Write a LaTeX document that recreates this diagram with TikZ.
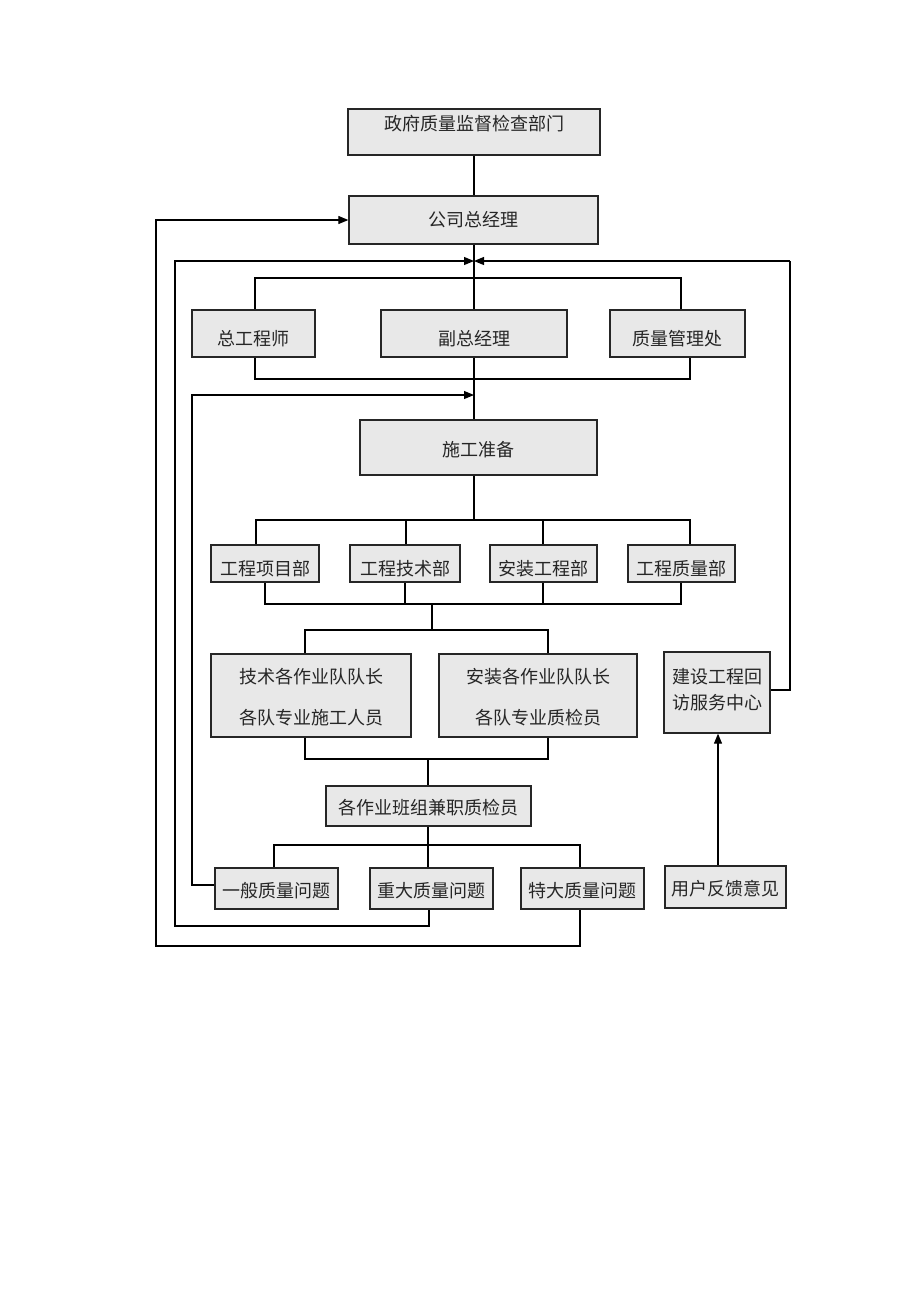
\documentclass[tikz,border=0pt]{standalone}
\usepackage{fontspec}
\newfontfamily\cjk{Noto Sans CJK SC}
\usetikzlibrary{arrows.meta,backgrounds}
\begin{document}
\begin{tikzpicture}[x=1pt,y=-1pt,
  box/.style={draw=black!85,line width=1.3pt,fill=black!9,rectangle,inner sep=0pt,
    font=\cjk\fontsize{18}{21}\selectfont,text=black!85,align=center},
  txt/.style={inner sep=0pt,font=\cjk\fontsize{18}{21}\selectfont,text=black!85,align=center},
  ln/.style={draw=black,line width=1.1pt},
  arr/.style={ln,-{Triangle[length=10pt,width=8pt]}}]
\useasboundingbox (0,0) rectangle (920,1302);
% nodes
\node[box,minimum width=252,minimum height=46,label={[txt,yshift=8pt]center:政府质量监督检查部门}] (gov) at (474,132) {};
\node[box,minimum width=249,minimum height=48,label={[txt]center:公司总经理}] (gm) at (473.5,220) {};
\node[box,minimum width=123,minimum height=47,label={[txt,yshift=-5pt]center:总工程师}] (ce) at (253.5,333.5) {};
\node[box,minimum width=186,minimum height=47,label={[txt,yshift=-5pt]center:副总经理}] (vgm) at (474,333.5) {};
\node[box,minimum width=135,minimum height=47,label={[txt,yshift=-5pt]center:质量管理处}] (qmd) at (677.5,333.5) {};
\node[box,minimum width=237,minimum height=55,label={[txt,yshift=-2pt]center:施工准备}] (prep) at (478.5,447.5) {};
\node[box,minimum width=108,minimum height=37,label={[txt,yshift=-5pt]center:工程项目部}] (d1) at (265,563.5) {};
\node[box,minimum width=110,minimum height=37,label={[txt,yshift=-5pt]center:工程技术部}] (d2) at (405,563.5) {};
\node[box,minimum width=107,minimum height=37,label={[txt,yshift=-5pt]center:安装工程部}] (d3) at (543.5,563.5) {};
\node[box,minimum width=107,minimum height=37,label={[txt,yshift=-5pt]center:工程质量部}] (d4) at (681.5,563.5) {};
\node[box,minimum width=200,minimum height=83,label={[txt,yshift=-2pt,font=\cjk\fontsize{18}{41}\selectfont]center:技术各作业队队长\\各队专业施工人员}] (t1) at (311,695.5) {};
\node[box,minimum width=198,minimum height=83,label={[txt,yshift=-2pt,font=\cjk\fontsize{18}{41}\selectfont]center:安装各作业队队长\\各队专业质检员}] (t2) at (538,695.5) {};
\node[box,minimum width=106,minimum height=81,label={[txt,yshift=3pt,font=\cjk\fontsize{18}{26}\selectfont]center:建设工程回\\访服务中心}] (svc) at (717,692.5) {};
\node[box,minimum width=205,minimum height=40,label={[txt,yshift=-2pt]center:各作业班组兼职质检员}] (team) at (428.5,806) {};
\node[box,minimum width=123,minimum height=41,label={[txt,yshift=-2pt]center:一般质量问题}] (p1) at (276.5,888.5) {};
\node[box,minimum width=123,minimum height=41,label={[txt,yshift=-2pt]center:重大质量问题}] (p2) at (431.5,888.5) {};
\node[box,minimum width=123,minimum height=41,label={[txt,yshift=-2pt]center:特大质量问题}] (p3) at (582.5,888.5) {};
\node[box,minimum width=121,minimum height=42,label={[txt,yshift=-2pt]center:用户反馈意见}] (fb) at (725.5,887) {};
% junction coordinates
\coordinate (j1) at (474,261);
\coordinate (j2) at (474,278);
\coordinate (j3) at (474,379);
\coordinate (j4) at (474,395);
\coordinate (j5) at (474,520);
\coordinate (j6) at (432,604);
\coordinate (j7) at (432,630);
\coordinate (j8) at (428,759);
\coordinate (j9) at (428,845);
\begin{scope}[on background layer]
% tree connectors
\draw[ln] (gov.south -| j1) -- (gm.north -| j1);
\draw[ln] (gm.south -| j1) -- (vgm.north -| j1);
\draw[ln] (255,310) |- (j2) -| (681,310);
\draw[ln] (vgm.south -| j1) -- (prep.north -| j1);
\draw[ln] (255,357) |- (j3) -| (690,357);
\draw[ln] (prep.south -| j5) -- (j5);
\draw[ln] (256,545) |- (j5) -| (690,545);
\draw[ln] (406,520) -- (406,545);
\draw[ln] (543,520) -- (543,545);
\draw[ln] (265,582) |- (j6) -| (681,582);
\draw[ln] (405,582) -- (405,604);
\draw[ln] (543,582) -- (543,604);
\draw[ln] (j6) -- (j7);
\draw[ln] (305,654) |- (j7) -| (548,654);
\draw[ln] (305,737) |- (j8) -| (548,737);
\draw[ln] (j8) -- (team.north -| j8);
\draw[ln] (team.south -| j9) -- (j9);
\draw[ln] (274,868) |- (j9) -| (580,868);
\draw[ln] (j9) -- (p2.north -| j9);
% feedback connectors
\draw[arr] (fb.north -| 718,0) -- (svc.south -| 718,0);
\draw[ln] (svc.east |- 0,690) -| (790,261);
\draw[arr] (790,261) -- (j1);
\draw[arr] (p1.west |- 0,885) -| (192,395) -- (j4);
\draw[arr] (p2.south -| 429,0) |- (175,926) -- (175,261) -- (j1);
\draw[arr] (p3.south -| 580,0) |- (156,946) |- (gm.west);
\end{scope}
\end{tikzpicture}
\end{document}
